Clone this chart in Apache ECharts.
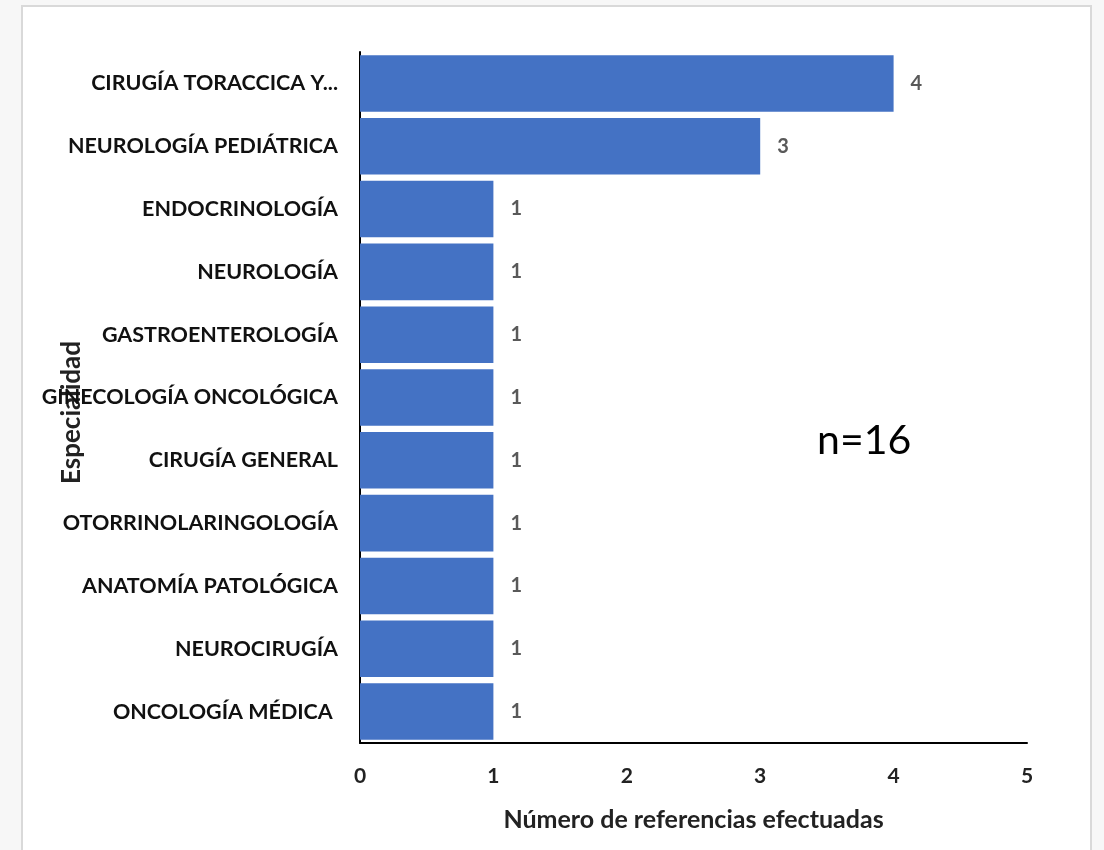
<!DOCTYPE html>
<html>
<head>
<meta charset="utf-8">
<script src="https://cdn.jsdelivr.net/npm/echarts@6/dist/echarts.min.js"></script>
<style>
  html, body { margin: 0; padding: 0; background: #f7f7f7; }
  #chart { width: 1104px; height: 850px; }
</style>
</head>
<body>
<div id="chart"></div>
<script>
const especialidades = [
  'CIRUGÍA TORACCICA Y...',
  'NEUROLOGÍA PEDIÁTRICA',
  'ENDOCRINOLOGÍA',
  'NEUROLOGÍA',
  'GASTROENTEROLOGÍA',
  'GINECOLOGÍA ONCOLÓGICA',
  'CIRUGÍA GENERAL',
  'OTORRINOLARINGOLOGÍA',
  'ANATOMÍA PATOLÓGICA',
  'NEUROCIRUGÍA',
  'ONCOLOGÍA MÉDICA '
]
const referencias = [4, 3, 1, 1, 1, 1, 1, 1, 1, 1, 1]
const totalTexto = 'n=16'

const font = 'Lato, "Open Sans", sans-serif'

const chart = echarts.init(document.getElementById('chart'))

const option = {
  backgroundColor: '#f7f7f7',
  animation: false,
  graphic: [
    {
      type: 'rect',
      z: -10,
      shape: { x: 22, y: 6, width: 1069, height: 860 },
      style: { fill: '#ffffff', stroke: '#d9d9d9', lineWidth: 2 }
    },
    {
      type: 'text',
      left: 817,
      top: 420,
      style: {
        text: totalTexto,
        font: '41px ' + font,
        fill: '#000'
      }
    }
  ],
  grid: {
    left: 360,
    right: 77,
    top: 52,
    bottom: 107,
    outerBoundsMode: 'none'
  },
  xAxis: {
    type: 'value',
    min: 0,
    max: 5,
    interval: 1,
    name: 'Número de referencias efectuadas',
    nameLocation: 'middle',
    nameGap: 64,
    nameMoveOverlap: false,
    nameTextStyle: { color: '#222', fontSize: 25, fontWeight: 'bold', fontFamily: font },
    axisLine: { show: true, lineStyle: { color: '#000', width: 2 } },
    axisTick: { show: false },
    splitLine: { show: false },
    axisLabel: { color: '#222', fontSize: 21, fontWeight: 'bold', fontFamily: font, margin: 23 }
  },
  yAxis: {
    type: 'category',
    inverse: true,
    data: especialidades,
    name: 'Especialidad',
    nameLocation: 'middle',
    nameGap: 275,
    nameRotate: 90,
    nameMoveOverlap: false,
    nameTextStyle: {
      color: '#222',
      fontSize: 26,
      fontWeight: 'bold',
      fontFamily: font,
      padding: [0, 30, 0, 0]
    },
    axisLine: { show: true, lineStyle: { color: '#000', width: 2 } },
    axisTick: { show: false },
    axisLabel: { color: '#111', fontSize: 21.5, fontWeight: 'bold', fontFamily: font, margin: 22 }
  },
  series: [
    {
      type: 'bar',
      data: referencias,
      barCategoryGap: '10%',
      itemStyle: { color: '#4472C4' },
      label: {
        show: true,
        position: 'right',
        distance: 17,
        color: '#595959',
        fontSize: 20,
        fontWeight: 'bold',
        fontFamily: font
      }
    }
  ]
}

chart.setOption(option)
</script>
</body>
</html>
